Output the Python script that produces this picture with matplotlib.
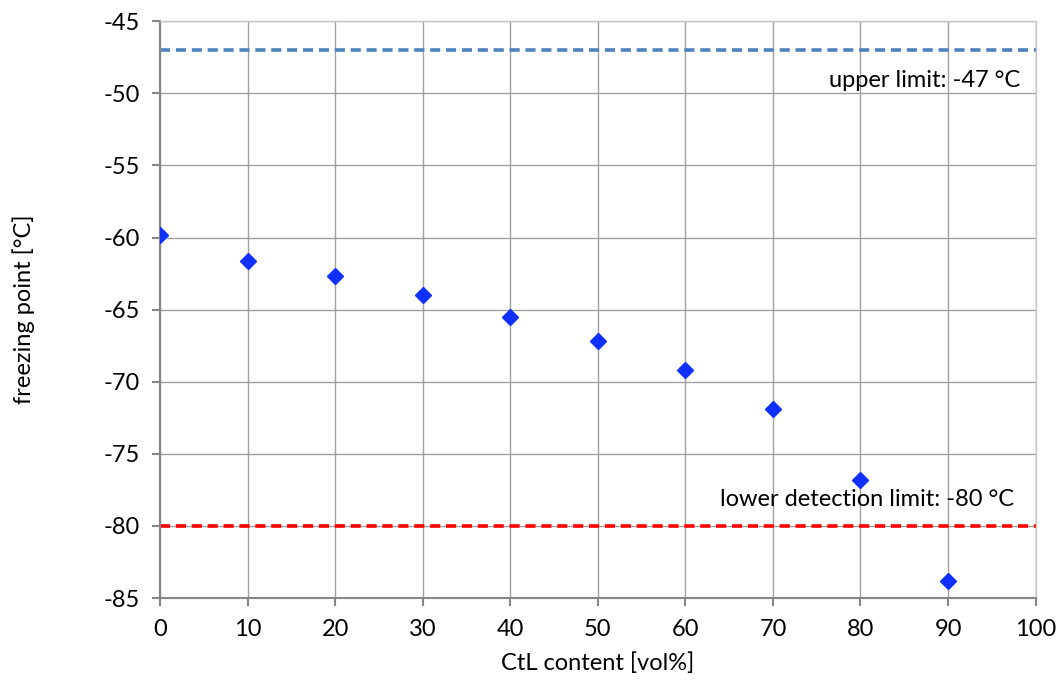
import matplotlib.pyplot as plt

plt.rcParams["font.family"] = ["Lato", "DejaVu Sans"]
plt.rcParams["axes.unicode_minus"] = False

ctl_content = [0, 10, 20, 30, 40, 50, 60, 70, 80, 90]
freezing_point = [-59.8, -61.6, -62.7, -64.0, -65.5, -67.2, -69.2, -71.9, -76.8, -83.8]

upper_limit = -47
lower_limit = -80

fig = plt.figure(figsize=(10.61, 6.82), dpi=100)
ax = fig.add_axes([0.151, 0.123, 0.825, 0.846])

ax.axhline(upper_limit, color="#4f81bd", linestyle=(0, (2.8, 1.6)), linewidth=2.6, zorder=2)
ax.axhline(lower_limit, color="#ff0000", linestyle=(0, (2.8, 1.6)), linewidth=2.6, zorder=2)

ax.plot(ctl_content, freezing_point, linestyle="none", marker="D",
        markersize=8.5, color="#1030ff", zorder=3)

ax.text(98.3, -49.1, "upper limit: -47 °C", ha="right", va="center", fontsize=17)
ax.text(97.6, -78.15, "lower detection limit: -80 °C", ha="right", va="center", fontsize=17)

ax.set_xlim(0, 100)
ax.set_ylim(-85, -45)
ax.set_xticks(range(0, 101, 10))
ax.set_yticks(range(-85, -44, 5))

ax.grid(True, color="#a0a0a0", linewidth=1)
ax.set_axisbelow(True)

for side in ["top", "right"]:
    ax.spines[side].set_color("#c8c8c8")
    ax.spines[side].set_linewidth(1)
for side in ["left", "bottom"]:
    ax.spines[side].set_color("#868686")
    ax.spines[side].set_linewidth(1.5)

ax.tick_params(axis="both", direction="out", length=6, width=1.5, color="#868686",
               labelsize=17, pad=9)

ax.set_xlabel("CtL content [vol%]", fontsize=17, labelpad=9)
ax.set_ylabel("freezing point [°C]", fontsize=17, labelpad=49)

fig.savefig("out.png", dpi=100)
